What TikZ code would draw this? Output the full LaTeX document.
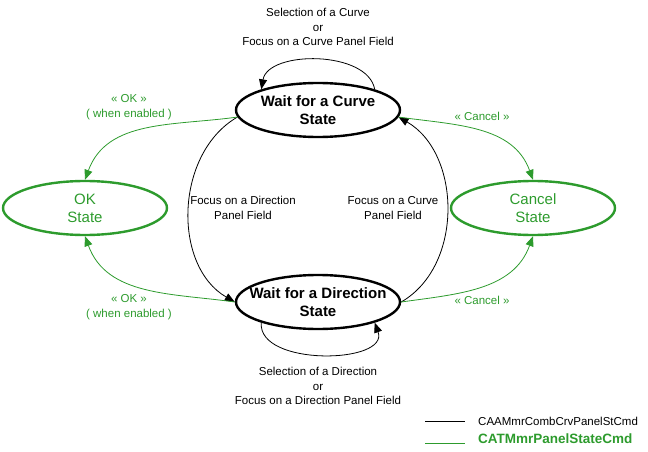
\documentclass[tikz,border=0pt]{standalone}
\usepackage{fontspec}
\setmainfont{Liberation Sans}
\usepackage{tikz}
\usetikzlibrary{shapes}
\usetikzlibrary{arrows.meta}
\definecolor{catgreen}{RGB}{45,155,45}
\tikzstyle{state}=[ellipse,draw=black,line width=2.4pt,minimum width=164pt,minimum height=54pt,inner sep=0pt]
\tikzstyle{endstate}=[state,draw=catgreen]
\tikzstyle{stext}=[align=center,font=\fontsize{15}{18}\selectfont\bfseries]
\tikzstyle{etext}=[align=center,text=catgreen,font=\fontsize{15}{18}\selectfont]
\tikzstyle{txt}=[align=center,font=\fontsize{11.5}{14.5}\selectfont]
\tikzstyle{gtxt}=[txt,text=catgreen]
\tikzstyle{trans}=[-{Triangle[length=10pt,width=8pt]},line width=0.8pt]
\tikzstyle{gtrans}=[trans,draw=catgreen]

\begin{document}
\begin{tikzpicture}[x=1pt,y=-1pt]
      \useasboundingbox (0,0) rectangle (648,452);
      \node[state,label={[stext]center:{Wait for a Curve\\State}}] at (318,110) (curve) {};
      \node[state,label={[stext]center:{Wait for a Direction\\State}}] at (318,302) (direction) {};
      \node[endstate,label={[etext]center:{OK\\State}}] at (85,208) (ok) {};
      \node[endstate,label={[etext]center:{Cancel\\State}}] at (533,208) (cancel) {};
      \node[txt] at (318,27) (selcurve) {Selection of a Curve\\or\\Focus on a Curve Panel Field};
      \node[txt] at (318,386) (seldir) {Selection of a Direction\\or\\Focus on a Direction Panel Field};
      \node[txt] at (243,208) (focusdir) {Focus on a Direction\\Panel Field};
      \node[txt] at (393,208) (focuscurve) {Focus on a Curve\\Panel Field};
      \node[gtxt] at (129,107) (okup) {« OK »\\( when enabled )};
      \node[gtxt] at (129,307) (okdown) {« OK »\\( when enabled )};
      \node[gtxt] at (482,116) (cancelup) {« Cancel »};
      \node[gtxt] at (482,300) (canceldown) {« Cancel »};
      \draw[trans] (curve.20) to[out=100,in=80,looseness=0.9] (curve.160);
      \draw[trans] (direction.200) to[out=265,in=290] (direction.340);
      \draw[trans] (curve.185) to[out=210,in=150] (direction.west);
      \draw[trans] (direction.east) to[out=30,in=-30] (curve.355);
      \draw[gtrans] (curve.185) to[out=188,in=70] (ok.north);
      \draw[gtrans] (direction.west) to[out=172,in=-70] (ok.south);
      \draw[gtrans] (curve.355) to[out=-8,in=110] (cancel.north);
      \draw[gtrans] (direction.east) to[out=8,in=-110] (cancel.south);
      \coordinate (caaa) at (425,421);
      \coordinate (caab) at (465,421);
      \coordinate (cata) at (425,443);
      \coordinate (catb) at (465,443);
      \draw[line width=0.8pt] (caaa) -- (caab);
      \draw[line width=0.8pt,catgreen] (cata) -- (catb);
      \node[txt,anchor=west,inner sep=0pt] at (478,421) (caacmd) {CAAMmrCombCrvPanelStCmd};
      \node[anchor=west,inner sep=0pt,text=catgreen,font=\fontsize{13.5}{16}\selectfont\bfseries] at (478,439) (catcmd) {CATMmrPanelStateCmd};
\end{tikzpicture}
\end{document}
